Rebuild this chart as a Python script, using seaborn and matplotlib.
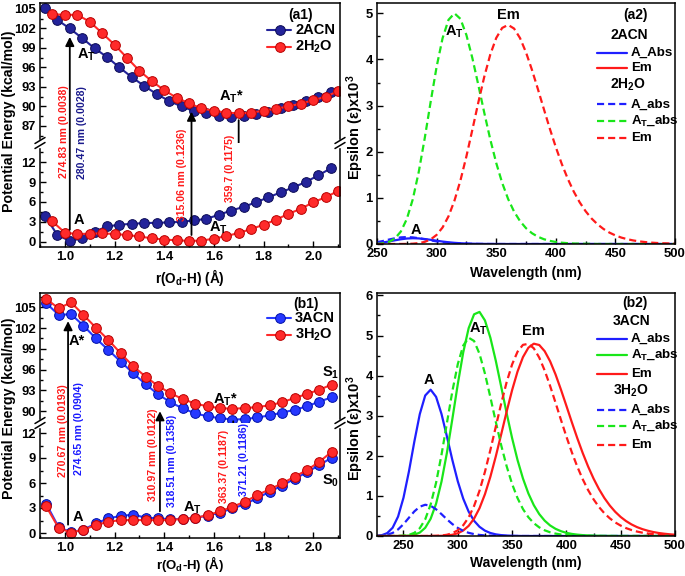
import matplotlib
matplotlib.use("Agg")
import matplotlib.pyplot as plt
import seaborn as sns
from matplotlib.lines import Line2D
from matplotlib.patches import Rectangle
from matplotlib.ticker import MultipleLocator

# ---------------- data ----------------
# (a1) potential energy curves
a1_x_acn = [0.92, 0.97, 1.02, 1.07, 1.12, 1.17, 1.22, 1.27, 1.32, 1.37, 1.42, 1.47,
            1.52, 1.57, 1.62, 1.67, 1.72, 1.77, 1.82, 1.87, 1.92, 1.97, 2.02, 2.07]
a1_s1_acn = [105.1, 103.3, 102.0, 100.5, 98.95, 97.6, 96.0, 94.5, 93.15, 91.9, 90.85, 90.0,
             89.3, 88.95, 88.6, 88.45, 88.55, 88.85, 89.2, 89.7, 90.2, 90.85, 91.5, 92.3]
a1_s0_acn = [3.9, 1.0, 0.1, 0.5, 1.5, 2.3, 2.55, 2.7, 2.8, 2.85, 2.9, 3.0,
             3.2, 3.45, 4.05, 4.7, 5.25, 5.95, 6.7, 7.45, 8.2, 9.0, 10.0, 11.05]
a1_x_h2o = [0.95, 1.00, 1.05, 1.10, 1.15, 1.20, 1.25, 1.30, 1.35, 1.40, 1.45, 1.50,
            1.55, 1.60, 1.65, 1.70, 1.75, 1.80, 1.85, 1.90, 1.95, 2.00, 2.05, 2.10]
a1_s1_h2o = [104.2, 104.1, 104.1, 103.05, 101.3, 99.5, 97.5, 95.5, 93.9, 92.5, 91.35, 90.5,
             89.7, 89.35, 89.05, 88.95, 89.05, 89.35, 89.65, 90.0, 90.45, 90.95, 91.5, 92.35]
a1_s0_h2o = [3.06, 1.35, 1.15, 1.2, 1.25, 1.15, 1.0, 0.78, 0.5, 0.32, 0.2, 0.12,
             0.15, 0.45, 0.85, 1.3, 1.9, 2.55, 3.3, 4.2, 4.95, 5.95, 6.7, 7.65]

# (b1) potential energy curves
b1_x = [0.925, 0.975, 1.025, 1.075, 1.125, 1.175, 1.225, 1.275, 1.325, 1.375, 1.425, 1.475,
        1.525, 1.575, 1.625, 1.675, 1.725, 1.775, 1.825, 1.875, 1.925, 1.975, 2.025, 2.075]
b1_s1_acn = [105.6, 103.9, 104.0, 102.35, 100.5, 98.85, 97.15, 95.5, 93.9, 92.45, 91.3, 90.4,
             89.7, 89.25, 89.0, 88.8, 88.85, 89.1, 89.4, 89.8, 90.2, 90.7, 91.4, 92.0]
b1_s1_h2o = [106.2, 104.85, 105.7, 103.9, 102.05, 100.3, 98.35, 96.5, 95.0, 93.65, 92.6, 91.75,
             91.1, 90.7, 90.45, 90.35, 90.45, 90.6, 90.85, 91.3, 91.9, 92.5, 93.1, 93.85]
b1_s0_acn = [3.5, 0.7, 0.1, 0.4, 1.15, 1.75, 2.05, 2.2, 1.85, 1.75, 1.65, 1.7,
             1.8, 2.1, 2.45, 2.95, 3.45, 4.2, 4.95, 5.7, 6.5, 7.3, 8.15, 9.05]
b1_s0_h2o = [3.2, 0.6, 0.05, 0.4, 0.95, 1.35, 1.55, 1.55, 1.55, 1.55, 1.55, 1.7,
             1.8, 2.15, 2.6, 3.15, 3.75, 4.55, 5.25, 5.95, 6.75, 7.55, 8.55, 9.75]

# (a2) spectra
a2_wl = [250, 255, 260, 265, 270, 275, 280, 285, 290, 295, 300, 305, 310, 315, 320, 325, 330,
         335, 340, 345, 350, 355, 360, 365, 370, 375, 380, 385, 390, 395, 400, 405, 410, 415,
         420, 425, 430, 435, 440, 445, 450, 455, 460, 465, 470, 475, 480, 485, 490, 495, 500]
a2_acn_a = [0.0175, 0.0334, 0.055, 0.080, 0.1025, 0.1186, 0.125, 0.121, 0.108, 0.0907, 0.0714,
            0.0531, 0.0376, 0.0255, 0.0166, 0.0104, 0.0064, 0.0038, 0.0022, 0.0012, 0.0007,
            0, 0, 0, 0, 0, 0, 0, 0, 0, 0, 0, 0, 0, 0, 0, 0, 0, 0, 0, 0, 0, 0, 0, 0, 0, 0, 0, 0, 0, 0]
a2_h2o_a = [0.0386, 0.0652, 0.0958, 0.124, 0.1435, 0.15, 0.143, 0.126, 0.103, 0.0788, 0.0569,
            0.039, 0.0255, 0.016, 0.0096, 0.0056, 0.0032, 0.0018, 0.0009,
            0, 0, 0, 0, 0, 0, 0, 0, 0, 0, 0, 0, 0, 0, 0, 0, 0, 0, 0, 0, 0, 0, 0, 0, 0, 0, 0, 0, 0, 0, 0, 0]
a2_h2o_at = [0.004, 0.015, 0.045, 0.119, 0.270, 0.541, 0.967, 1.559, 2.287, 3.080, 3.840, 4.46,
             4.86, 5.0, 4.88, 4.53, 4.03, 3.448, 2.844, 2.270, 1.759, 1.326, 0.976, 0.702, 0.496,
             0.343, 0.234, 0.157, 0.104, 0.068, 0.044, 0.028, 0.018, 0.011, 0.007, 0.0045, 0.003,
             0, 0, 0, 0, 0, 0, 0, 0, 0, 0, 0, 0, 0, 0]
a2_h2o_em = [0, 0, 0, 0, 0.0007, 0.0023, 0.007, 0.019, 0.0456, 0.099, 0.197, 0.358, 0.601, 0.941,
             1.378, 1.899, 2.477, 3.068, 3.626, 4.104, 4.465, 4.683, 4.75, 4.67, 4.463, 4.154,
             3.775, 3.356, 2.923, 2.498, 2.100, 1.736, 1.416, 1.139, 0.905, 0.711, 0.553, 0.427,
             0.326, 0.247, 0.186, 0.139, 0.104, 0.077, 0.057, 0.042, 0.030, 0.022, 0.016, 0.012, 0.0085]

# (b2) spectra
b2_wl = [225, 230, 235, 240, 245, 250, 255, 260, 265, 270, 275, 280, 285, 290, 295, 300, 305,
         310, 315, 320, 325, 330, 335, 340, 345, 350, 355, 360, 365, 370, 375, 380, 385, 390,
         395, 400, 405, 410, 415, 420, 425, 430, 435, 440, 445, 450, 455, 460, 465, 470, 475,
         480, 485, 490, 495, 500]
b2_acn_a = [0.0044, 0.020, 0.072, 0.206, 0.484, 0.955, 1.609, 2.356, 3.040, 3.504, 3.649, 3.470,
            3.043, 2.480, 1.893, 1.363, 0.931, 0.607, 0.379, 0.229, 0.133, 0.075, 0.041, 0.022,
            0.012, 0.006, 0.003,
            0, 0, 0, 0, 0, 0, 0, 0, 0, 0, 0, 0, 0, 0, 0, 0, 0, 0, 0, 0, 0, 0, 0, 0, 0, 0, 0, 0, 0]
b2_h2o_a = [0.0022, 0.0092, 0.0296, 0.0767, 0.164, 0.295, 0.456, 0.614, 0.731, 0.779, 0.753,
            0.666, 0.545, 0.415, 0.297, 0.201, 0.129, 0.079, 0.047, 0.0267, 0.0147, 0.0079,
            0.0041, 0.0021,
            0, 0, 0, 0, 0, 0, 0, 0, 0, 0, 0, 0, 0, 0, 0, 0, 0, 0, 0, 0, 0, 0, 0, 0, 0, 0, 0, 0, 0, 0, 0, 0]
b2_acn_at = [0, 0, 0, 0.0001, 0.0006, 0.0025, 0.0097, 0.031, 0.0855, 0.204, 0.430, 0.805, 1.357,
             2.078, 2.920, 3.790, 4.578, 5.183, 5.529, 5.588, 5.376, 4.945, 4.368, 3.718, 3.060,
             2.442, 1.895, 1.434, 1.061, 0.768, 0.546, 0.382, 0.263, 0.179, 0.120, 0.079, 0.052,
             0.034, 0.022, 0.014, 0.009, 0.0057, 0.0036, 0.0023,
             0, 0, 0, 0, 0, 0, 0, 0, 0, 0, 0, 0]
b2_h2o_at = [0, 0, 0, 0, 0.002, 0.0082, 0.0278, 0.079, 0.194, 0.416, 0.786, 1.328, 2.027, 2.821,
             3.612, 4.287, 4.750, 4.945, 4.863, 4.543, 4.050, 3.460, 2.845, 2.258, 1.738, 1.297,
             0.945, 0.672, 0.468, 0.320, 0.215, 0.142, 0.0926, 0.0596, 0.038, 0.024, 0.015,
             0.0093, 0.0057, 0.0035, 0.002,
             0, 0, 0, 0, 0, 0, 0, 0, 0, 0, 0, 0, 0, 0, 0]
b2_acn_em = [0, 0, 0, 0, 0, 0, 0, 0, 0, 0, 0, 0.0016, 0.0048, 0.0129, 0.031, 0.068, 0.137, 0.253,
             0.434, 0.694, 1.043, 1.478, 1.987, 2.540, 3.104, 3.637, 4.101, 4.461, 4.696, 4.796,
             4.763, 4.609, 4.357, 4.029, 3.649, 3.246, 2.837, 2.442, 2.071, 1.733, 1.432, 1.170,
             0.946, 0.758, 0.602, 0.474, 0.371, 0.288, 0.222, 0.171, 0.131, 0.099, 0.075, 0.057,
             0.043, 0.032]
b2_h2o_em = [0, 0, 0, 0, 0, 0, 0, 0, 0, 0, 0.0014, 0.0044, 0.0124, 0.031, 0.070, 0.143, 0.268,
             0.464, 0.749, 1.129, 1.601, 2.145, 2.728, 3.308, 3.839, 4.279, 4.595, 4.767, 4.792,
             4.680, 4.449, 4.127, 3.743, 3.324, 2.895, 2.478, 2.087, 1.732, 1.417, 1.145, 0.915,
             0.723, 0.566, 0.440, 0.338, 0.259, 0.196, 0.148, 0.111, 0.083, 0.062, 0.046, 0.034,
             0.025, 0.018, 0.013]

# ---------------- style ----------------
sns.set_style("ticks", rc={"axes.edgecolor": "black", "xtick.color": "black",
                           "ytick.color": "black", "text.color": "black",
                           "axes.labelcolor": "black"})
plt.rcParams["font.family"] = ["Liberation Sans", "DejaVu Sans"]
plt.rcParams["font.weight"] = "bold"
plt.rcParams["axes.labelweight"] = "bold"
plt.rcParams["mathtext.fontset"] = "custom"
plt.rcParams["mathtext.rm"] = "Liberation Sans:bold"
plt.rcParams["mathtext.it"] = "Liberation Sans:bold"
plt.rcParams["mathtext.bf"] = "Liberation Sans:bold"
plt.rcParams["mathtext.default"] = "rm"

W, H = 685, 576
fig = plt.figure(figsize=(W / 100, H / 100), dpi=100)


def fx(px):
    return px / W


def fy(py):
    return 1 - py / H


def add_ax(left, top, right, bottom):
    return fig.add_axes([fx(left), fy(bottom), (right - left) / W, (bottom - top) / H])


def style(ax, xmaj=None, xmin=None, ymaj=None, ymin=None):
    ax.tick_params(which="both", direction="in", top=False, right=False,
                   labelsize=9.4, width=1.0, pad=3)
    ax.tick_params(which="major", length=4.5)
    ax.tick_params(which="minor", length=2.5)
    for s in ax.spines.values():
        s.set_linewidth(1.1)
        s.set_color("black")
    if xmaj:
        ax.xaxis.set_major_locator(MultipleLocator(xmaj))
    if xmin:
        ax.xaxis.set_minor_locator(MultipleLocator(xmin))
    if ymaj:
        ax.yaxis.set_major_locator(MultipleLocator(ymaj))
    if ymin:
        ax.yaxis.set_minor_locator(MultipleLocator(ymin))
    ax.set_xlabel("")
    ax.set_ylabel("")


NAVY, NAVY_E = "#23239a", "#0c0c55"
RED, RED_E = "#ff2a2a", "#b80000"
BLUE, BLUE_E = "#2638ff", "#0010a8"
SPB, SPG, SPR = "#1f1fff", "#19e619", "#ff1a1a"
TXT_RED, TXT_NAVY, TXT_BLUE = "#ff1a1a", "#1a1a8c", "#1a1aff"
DASH = (0, (3.2, 1.8))


def pes(ax, x, y, c, ec):
    sns.lineplot(x=x, y=y, ax=ax, color=c, linewidth=1.5, marker="o", markersize=7,
                 markerfacecolor=c, markeredgecolor=ec, markeredgewidth=0.7, legend=False)


def broken_pair(top, brk, bottom, upl, lol, ytk_up, ytk_lo):
    up = add_ax(40, top, 340, brk)
    lo = add_ax(40, brk, 340, bottom)
    for ax in (up, lo):
        ax.set_xlim(0.90, 2.108)
        style(ax, xmaj=0.2, xmin=0.1)
    up.set_ylim(*upl)
    lo.set_ylim(*lol)
    up.yaxis.set_major_locator(MultipleLocator(ytk_up[0]))
    up.yaxis.set_minor_locator(MultipleLocator(ytk_up[1]))
    lo.yaxis.set_major_locator(MultipleLocator(ytk_lo[0]))
    lo.yaxis.set_minor_locator(MultipleLocator(ytk_lo[1]))
    up.spines["bottom"].set_visible(False)
    lo.spines["top"].set_visible(False)
    up.tick_params(axis="x", which="both", bottom=False, labelbottom=False)
    # break marks
    for xp in (40, 340):
        fig.add_artist(Rectangle((fx(xp - 3), fy(brk + 3.5)), 6 / W, 7 / H,
                                 transform=fig.transFigure, color="white", zorder=20))
        for off in (-2.5, 2.5):
            fig.add_artist(Line2D([fx(xp - 5), fx(xp + 5)],
                                  [fy(brk + off + 3), fy(brk + off - 3)],
                                  transform=fig.transFigure, color="black", lw=1.1, zorder=21))
    return up, lo


def arrow(ax_a, x, ya, ax_b, yb):
    ax_a.annotate("", xy=(x, yb), xycoords=ax_b.transData, xytext=(x, ya),
                  textcoords=ax_a.transData, annotation_clip=False,
                  arrowprops=dict(arrowstyle="-|>", color="black", lw=1.3,
                                  mutation_scale=13, shrinkA=0, shrinkB=0))


def t(px, py, s, size=10.5, color="black", **kw):
    fig.text(fx(px), fy(py), s, fontsize=size, color=color, fontweight="bold",
             ha=kw.pop("ha", "center"), va=kw.pop("va", "center"), **kw)


def vt(px, py, s, color):
    t(px, py, s, size=7.6, color=color, rotation=90)


def leg_pes(y, c, ec, label):
    fig.add_artist(Line2D([fx(267), fx(291)], [fy(y), fy(y)], color=c, lw=1.5))
    fig.add_artist(Line2D([fx(280)], [fy(y)], color=c, marker="o", markersize=7,
                          markeredgecolor=ec, markeredgewidth=0.7))
    t(295, y, label, size=10.5, ha="left")


def leg_spec(y, c, dashed, label):
    fig.add_artist(Line2D([fx(597), fx(627)], [fy(y), fy(y)], color=c, lw=1.6,
                          linestyle=DASH if dashed else "-"))
    t(631, y, label, size=9.6, ha="left")


# ---------------- (a1) ----------------
a1u, a1l = broken_pair(3, 143, 247, (84.38, 105.92), (-0.81, 14.9), (3, 1.5), (3, 1.5))
pes(a1u, a1_x_acn, a1_s1_acn, NAVY, NAVY_E)
pes(a1u, a1_x_h2o, a1_s1_h2o, RED, RED_E)
pes(a1l, a1_x_acn, a1_s0_acn, NAVY, NAVY_E)
pes(a1l, a1_x_h2o, a1_s0_h2o, RED, RED_E)
arrow(a1l, 1.02, 1.8, a1u, 100.7)
arrow(a1l, 1.51, 1.0, a1u, 89.2)
arrow(a1u, 1.70, 87.9, a1l, 6.4)
vt(64, 132, "274.83 nm (0.0038)", TXT_RED)
vt(82, 133, "280.47 nm (0.0028)", TXT_NAVY)
vt(182, 175, "315.06 nm (0.1236)", TXT_RED)
vt(230, 168, "359.7 (0.1175)", TXT_RED)
t(79, 220, "A")
t(86, 55, "A$_T$")
t(231, 97, "A$_T$*")
t(218, 228, "A$_T$")
t(301, 15, "(a1)", size=10)
leg_pes(30, NAVY, NAVY_E, "2ACN")
leg_pes(47, RED, RED_E, "2H$_2$O")
t(9, 121, "Potential Energy (kcal/mol)", size=10.2, rotation=90)
t(190, 277, "r(O$_d$-H) (Å)", size=9.8)

# ---------------- (b1) ----------------
b1u, b1l = broken_pair(293, 423, 538, (88.3, 107.06), (-0.6, 13.2), (3, 1.5), (3, 1.5))
pes(b1u, b1_x, b1_s1_acn, BLUE, BLUE_E)
pes(b1u, b1_x, b1_s1_h2o, RED, RED_E)
pes(b1l, b1_x, b1_s0_acn, BLUE, BLUE_E)
pes(b1l, b1_x, b1_s0_h2o, RED, RED_E)
arrow(b1l, 1.013, 1.0, b1u, 103.0)
arrow(b1l, 1.383, 2.6, b1u, 90.0)
arrow(b1u, 1.678, 88.55, b1l, 3.0)
vt(63, 431, "270.67 nm (0.0193)", TXT_RED)
vt(79, 429, "274.65 nm (0.0904)", TXT_BLUE)
vt(153, 455, "310.97 nm (0.0122)", TXT_RED)
vt(172, 461, "318.51 nm (0.1358)", TXT_BLUE)
vt(224, 466, "363.37 (0.1187)", TXT_RED)
vt(244, 460, "371.21 (0.1186)", TXT_BLUE)
t(78, 517, "A")
t(77, 341, "A*")
t(192, 508, "A$_T$")
t(225, 400, "A$_T$*")
t(331, 373, "S$_1$")
t(331, 481, "S$_0$")
t(306, 304, "(b1)", size=10)
leg_pes(318, BLUE, BLUE_E, "3ACN")
leg_pes(335, RED, RED_E, "3H$_2$O")
t(9, 408, "Potential Energy (kcal/mol)", size=10.2, rotation=90)
t(190, 564, "r(O$_d$-H) (Å)", size=9.5)

# ---------------- (a2) ----------------
a2 = add_ax(377, 3, 675, 244)
sns.lineplot(x=a2_wl, y=a2_acn_a, ax=a2, color=SPB, linewidth=1.6, legend=False)
sns.lineplot(x=a2_wl, y=a2_h2o_a, ax=a2, color=SPB, linewidth=1.6, linestyle=DASH, legend=False)
sns.lineplot(x=a2_wl, y=a2_h2o_at, ax=a2, color=SPG, linewidth=1.6, linestyle=DASH, legend=False)
sns.lineplot(x=a2_wl, y=a2_h2o_em, ax=a2, color=SPR, linewidth=1.6, linestyle=DASH, legend=False)
style(a2, xmaj=50, xmin=25, ymaj=1, ymin=0.5)
a2.set_xlim(250, 500)
a2.set_ylim(0, 5.224)
t(526, 273, "Wavelength (nm)", size=10)
t(355, 127, "Epsilon (ε)x10$^3$", size=10.5, rotation=90)
t(454, 32, "A$_T$")
t(508, 15, "Em")
t(416, 230, "A")
t(635, 15, "(a2)", size=10)
t(629, 35, "2ACN", size=10)
leg_spec(52.7, SPB, False, "A_Abs")
leg_spec(68.3, SPR, False, "Em")
t(628, 85, "2H$_2$O", size=10)
leg_spec(104.3, SPB, True, "A_abs")
leg_spec(120.7, SPG, True, "A$_T$_abs")
leg_spec(138.3, SPR, True, "Em")

# ---------------- (b2) ----------------
b2 = add_ax(377, 293, 675, 536)
sns.lineplot(x=b2_wl, y=b2_acn_a, ax=b2, color=SPB, linewidth=1.6, legend=False)
sns.lineplot(x=b2_wl, y=b2_acn_at, ax=b2, color=SPG, linewidth=1.6, legend=False)
sns.lineplot(x=b2_wl, y=b2_acn_em, ax=b2, color=SPR, linewidth=1.6, legend=False)
sns.lineplot(x=b2_wl, y=b2_h2o_a, ax=b2, color=SPB, linewidth=1.6, linestyle=DASH, legend=False)
sns.lineplot(x=b2_wl, y=b2_h2o_at, ax=b2, color=SPG, linewidth=1.6, linestyle=DASH, legend=False)
sns.lineplot(x=b2_wl, y=b2_h2o_em, ax=b2, color=SPR, linewidth=1.6, linestyle=DASH, legend=False)
style(b2, xmaj=50, xmin=25, ymaj=1, ymin=0.5)
b2.set_xlim(225.6, 500)
b2.set_ylim(0, 6.06)
t(526, 563, "Wavelength (nm)", size=10)
t(355, 428, "Epsilon (ε)x10$^3$", size=10.5, rotation=90)
t(429, 380, "A")
t(478, 329, "A$_T$")
t(533, 331, "Em")
t(635, 303, "(b2)", size=10)
t(632, 321, "3ACN", size=10)
leg_spec(338.7, SPB, False, "A_abs")
leg_spec(354.7, SPG, False, "A$_T$_abs")
leg_spec(374, SPR, False, "Em")
t(631, 391, "3H$_2$O", size=10)
leg_spec(409.7, SPB, True, "A_abs")
leg_spec(425.7, SPG, True, "A$_T$_abs")
leg_spec(444.7, SPR, True, "Em")

fig.savefig("out.png", dpi=100)
